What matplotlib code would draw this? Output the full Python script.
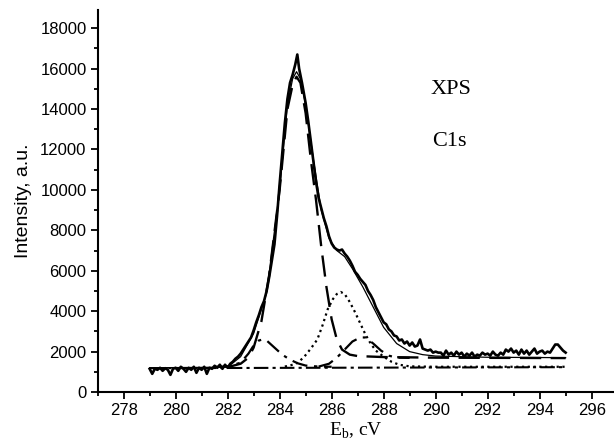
# XPS C1s spectrum with peak-fit components
import matplotlib
matplotlib.use("Agg")
import matplotlib.pyplot as plt
from matplotlib.ticker import MultipleLocator

# measured spectrum (binding energy, eV / intensity, a.u.)
spec_e = [279.0, 279.1, 279.2, 279.3, 279.4, 279.5, 279.6, 279.7, 279.8, 279.9,
          280.0, 280.1, 280.2, 280.3, 280.4, 280.5, 280.6, 280.7, 280.8, 280.9,
          281.0, 281.1, 281.2, 281.3, 281.4, 281.5, 281.6, 281.7, 281.8, 281.9,
          282.0, 282.1, 282.2, 282.3, 282.4, 282.5, 282.6, 282.7, 282.8, 282.9,
          283.0, 283.1, 283.2, 283.3, 283.4, 283.5, 283.6, 283.7, 283.8, 283.9,
          284.0, 284.1, 284.2, 284.3, 284.4, 284.5, 284.6, 284.68, 284.75, 284.86,
          285.0, 285.1, 285.2, 285.3, 285.4, 285.5, 285.6, 285.7, 285.8, 285.9,
          286.0, 286.1, 286.2, 286.3, 286.4, 286.45, 286.5, 286.6, 286.7, 286.8,
          286.9, 287.0, 287.1, 287.2, 287.3, 287.4, 287.5, 287.6, 287.7, 287.8,
          287.9, 288.0, 288.1, 288.2, 288.3, 288.4, 288.5, 288.6, 288.7, 288.8,
          288.9, 289.0, 289.1, 289.2, 289.3, 289.4, 289.5, 289.6, 289.7, 289.8,
          289.9, 290.0, 290.1, 290.2, 290.3, 290.4, 290.5, 290.6, 290.7, 290.8,
          290.9, 291.0, 291.1, 291.2, 291.3, 291.4, 291.5, 291.6, 291.7, 291.8,
          291.9, 292.0, 292.1, 292.2, 292.3, 292.4, 292.5, 292.6, 292.7, 292.8,
          292.9, 293.0, 293.1, 293.2, 293.3, 293.4, 293.5, 293.6, 293.7, 293.8,
          293.9, 294.0, 294.1, 294.2, 294.3, 294.4, 294.5, 294.6, 294.7, 294.8,
          294.9, 295.0]
spec_i = [1150, 900, 1150, 1100, 1200, 1050, 1180, 1100, 850, 1150,
          1200, 1050, 1250, 1150, 1000, 1200, 1100, 1250, 950, 1200,
          1100, 1250, 900, 1200, 1150, 1300, 1200, 1350, 1150, 1350,
          1200, 1400, 1500, 1650, 1750, 1900, 2100, 2300, 2500, 2700,
          3050, 3450, 3800, 4200, 4500, 5000, 5700, 6500, 7300, 8700,
          10300, 11800, 13300, 14500, 15300, 15700, 16200, 16700, 16000, 15300,
          14300, 13400, 12400, 11400, 10400, 9600, 9100, 8600, 8200, 7700,
          7350, 7150, 7050, 7000, 7050, 6950, 6850, 6700, 6500, 6250,
          5950, 5800, 5600, 5450, 5300, 5000, 4800, 4550, 4200, 3950,
          3700, 3450, 3350, 3100, 3000, 2800, 2750, 2550, 2600, 2400,
          2500, 2300, 2450, 2250, 2300, 2600, 2150, 2100, 2050, 2100,
          1950, 2000, 1950, 1950, 1800, 2050, 1850, 1950, 1800, 2000,
          1850, 1950, 1750, 1900, 1800, 1950, 1750, 1850, 1800, 1950,
          1850, 1900, 1800, 2000, 1850, 1800, 1950, 1850, 2100, 2000,
          2150, 1950, 2050, 1850, 2100, 1900, 2050, 1850, 2000, 2150,
          1900, 2000, 2050, 1900, 2000, 1950, 2150, 2350, 2350, 2200,
          2050, 1950]

# fit envelope
env_e = [279.0, 282.0, 282.5, 283.0, 283.5, 284.0, 284.3, 284.5, 284.65, 284.8,
         285.0, 285.3, 285.6, 285.9, 286.2, 286.5, 286.8, 287.2, 287.6, 288.0,
         288.5, 289.0, 289.5, 290.0, 292.0, 295.0]
env_i = [1200, 1230, 1750, 2900, 4900, 10000, 14200, 15500, 15850, 15500,
         14200, 11500, 9000, 7600, 7000, 6700, 6100, 5200, 4200, 3200,
         2400, 2000, 1850, 1780, 1720, 1700]

# main C-C component (dashed)
main_e = [282.0, 282.5, 282.8, 283.0, 283.3, 283.6, 284.0, 284.3, 284.5, 284.65,
          284.8, 285.0, 285.2, 285.4, 285.6, 285.8, 286.0, 286.2, 286.4, 286.7,
          287.0, 288.0, 290.0, 295.0]
main_i = [1230, 1400, 1700, 2200, 3500, 5800, 10000, 14000, 15200, 15600,
          15300, 13800, 11500, 9500, 7200, 5200, 3600, 2600, 2100, 1850,
          1780, 1730, 1700, 1680]

# small component at low energy (dash-dot)
low_e = [281.5, 282.0, 282.5, 282.8, 283.0, 283.2, 283.35, 283.5, 283.8, 284.1,
         284.4, 284.7, 285.0, 285.5, 286.0]
low_i = [1240, 1270, 1450, 1900, 2300, 2550, 2600, 2550, 2200, 1850,
         1600, 1420, 1310, 1260, 1250]

# C=O component (dash-dot)
high_e = [285.5, 285.9, 286.2, 286.5, 286.8, 287.1, 287.3, 287.6, 287.9, 288.2,
          288.5, 289.0]
high_i = [1260, 1400, 1700, 2100, 2500, 2700, 2700, 2400, 2050, 1800,
          1700, 1690]

# C-O component (dotted)
mid_e = [284.2, 284.5, 284.7, 284.95, 285.2, 285.45, 285.65, 285.85, 286.05, 286.2,
         286.35, 286.5, 286.7, 286.9, 287.1, 287.3, 287.5, 287.7, 288.0, 288.3,
         288.6, 289.0, 290.0, 295.0]
mid_i = [1260, 1350, 1450, 1750, 2150, 2600, 3300, 4100, 4600, 4850,
         4950, 4850, 4450, 3950, 3400, 2850, 2400, 2050, 1750, 1500,
         1350, 1270, 1250, 1250]

# linear baseline
base_e = [279.0, 295.0]
base_i = [1180, 1230]

fig = plt.figure(figsize=(6.14, 4.46), dpi=100)
ax = fig.add_axes([0.159, 0.121, 0.841, 0.8565])

ax.plot(base_e, base_i, color="black", lw=1.5, dashes=(7, 2, 1.5, 2))
ax.plot(mid_e, mid_i, color="black", lw=1.6, linestyle=(0, (1, 1.6)))
ax.plot(low_e, low_i, color="black", lw=1.6, dashes=(7, 3, 1.5, 3))
ax.plot(high_e, high_i, color="black", lw=1.6, dashes=(7, 3, 1.5, 3))
ax.plot(main_e, main_i, color="black", lw=1.7, dashes=(9, 4))
ax.plot(env_e, env_i, color="black", lw=0.9)
ax.plot(spec_e, spec_i, color="black", lw=1.9)

ax.set_xlim(277, 296.86)
ax.set_ylim(0, 18900)
ax.xaxis.set_major_locator(MultipleLocator(2))
ax.xaxis.set_minor_locator(MultipleLocator(1))
ax.yaxis.set_major_locator(MultipleLocator(2000))
ax.yaxis.set_minor_locator(MultipleLocator(1000))
ax.set_xticks(range(278, 297, 2))

for s in ["top", "right"]:
    ax.spines[s].set_visible(False)
for s in ["left", "bottom"]:
    ax.spines[s].set_linewidth(1.5)

ax.tick_params(which="major", direction="out", length=5, width=1.3,
               labelsize=12, pad=3)
ax.tick_params(which="minor", direction="out", length=3, width=1.3)
for lab in ax.get_xticklabels() + ax.get_yticklabels():
    lab.set_family("Liberation Sans")

ax.set_ylabel("Intensity, a.u.", family="Liberation Sans", fontsize=14, labelpad=6)
ax.set_xlabel("E$_\\mathregular{b}$, cV", family="Liberation Serif", fontsize=14, labelpad=2)

ax.text(289.8, 14950, "XPS", family="Liberation Serif", fontsize=16, va="center")
ax.text(289.85, 12400, "C1s", family="Liberation Serif", fontsize=16, va="center")

fig.savefig("out.png", dpi=100)
